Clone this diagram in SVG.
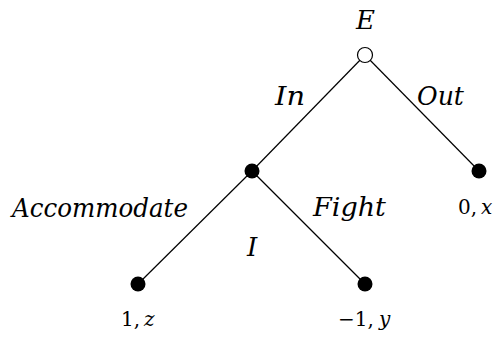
<svg xmlns="http://www.w3.org/2000/svg" width="501" height="338" viewBox="0 0 501 338">
<style>
.lbl{font-style:italic;font-size:26px;fill:#000}
.pay{font-size:20px;fill:#000}
.it{font-style:italic}
.edge{stroke:#000;stroke-width:1.2;fill:none}
.dec{fill:#000}
</style>
<rect width="501" height="338" fill="#fff"/>
<g id="connectors">
<line class="edge" x1="365" y1="55" x2="252" y2="171"/>
<line class="edge" x1="365" y1="55" x2="479" y2="171"/>
<line class="edge" x1="252" y1="171" x2="138" y2="284"/>
<line class="edge" x1="252" y1="171" x2="365" y2="284"/>
</g>
<g font-family="DejaVu Serif, serif">
<g id="nodeE">
<circle cx="365" cy="55" r="7.5" fill="#fff" stroke="#000" stroke-width="1.2"/>
<text class="lbl" font-family="DejaVu Serif, serif" x="356" y="29">E</text>
</g>
<g id="nodeI">
<circle class="dec" cx="252" cy="171" r="7.5"/>
<text class="lbl" font-family="DejaVu Serif, serif" x="247" y="256">I</text>
</g>
<g id="leafOut">
<circle class="dec" cx="479" cy="171" r="7.5"/>
<text class="pay" font-family="DejaVu Serif, serif" x="458" y="214">0,</text>
<text class="pay it" font-family="DejaVu Serif, serif" x="481" y="214">x</text>
</g>
<g id="leafAcc">
<circle class="dec" cx="138" cy="284" r="7.5"/>
<text class="pay" font-family="DejaVu Serif, serif" x="121" y="326">1,</text>
<text class="pay it" font-family="DejaVu Serif, serif" x="144" y="326">z</text>
</g>
<g id="leafFight">
<circle class="dec" cx="365" cy="284" r="7.5"/>
<text class="pay" font-family="DejaVu Serif, serif" x="338" y="326">−1,</text>
<text class="pay it" font-family="DejaVu Serif, serif" x="379" y="326">y</text>
</g>
<g id="edgeLabels">
<text class="lbl" font-family="DejaVu Serif, serif" x="275" y="105" textLength="30" lengthAdjust="spacingAndGlyphs">In</text>
<text class="lbl" font-family="DejaVu Serif, serif" x="417" y="105" textLength="47" lengthAdjust="spacingAndGlyphs">Out</text>
<text class="lbl" font-family="DejaVu Serif, serif" x="12" y="217" textLength="176" lengthAdjust="spacingAndGlyphs">Accommodate</text>
<text class="lbl" font-family="DejaVu Serif, serif" x="313" y="216" textLength="73" lengthAdjust="spacingAndGlyphs">Fight</text>
</g>
</g>
</svg>
